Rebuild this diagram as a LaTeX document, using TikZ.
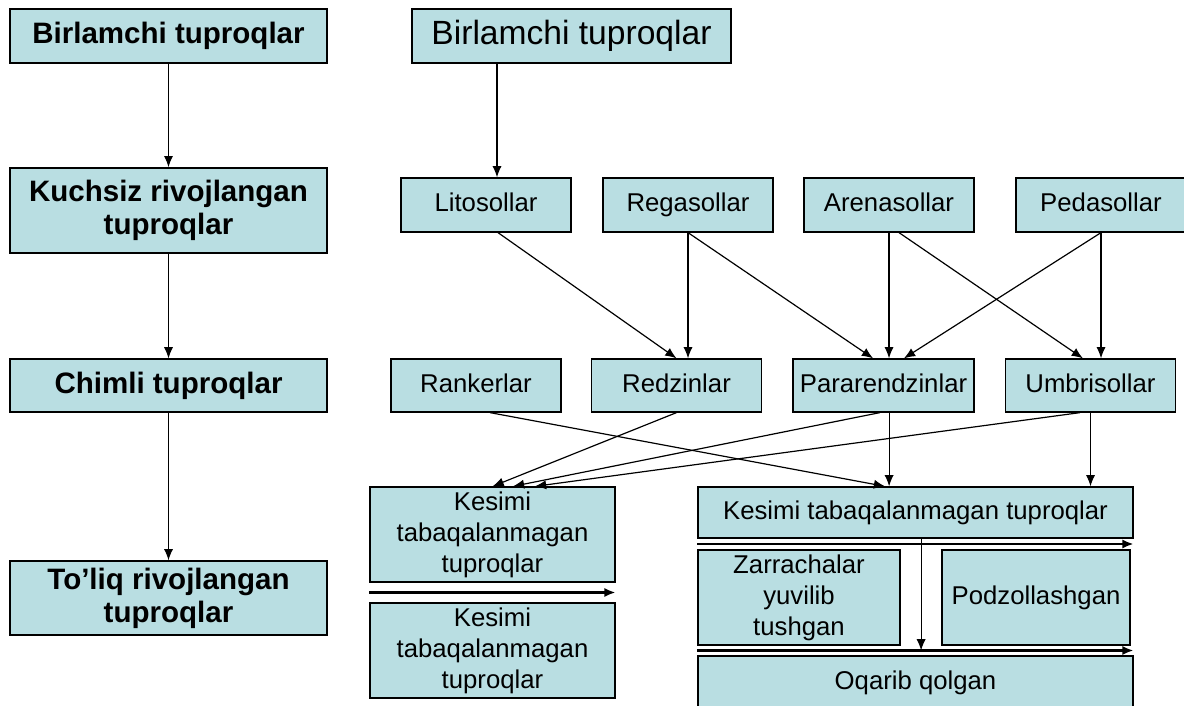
\documentclass[tikz,border=0pt]{standalone}
\usepackage{fontspec}
\setmainfont{Liberation Sans}
\usetikzlibrary{arrows.meta,calc}
\definecolor{boxblue}{RGB}{185,222,226}
\begin{document}
\begin{tikzpicture}[>={Latex[length=8pt,width=6.5pt]},
  box/.style={draw, line width=0.9pt, fill=boxblue, align=center, inner sep=2pt, font=\fontsize{18.3}{22}\selectfont},
  lbox/.style={box, font=\fontsize{21}{23.5}\selectfont\bfseries, minimum width=7.925cm},
  sbox/.style={box, minimum width=4.25cm, minimum height=1.35cm, text height=13.2pt, text depth=3.9pt},
  arr/.style={->, line width=0.85pt},
  sep/.style={->, line width=1.8pt}]
\useasboundingbox (0,0) rectangle (29.6,17.65);
\clip (0,0) rectangle (29.6,17.65);
\node[lbox, minimum height=1.35cm] (lb1) at (4.2125,16.75) {Birlamchi tuproqlar};
\node[lbox, minimum height=2.125cm] (lb2) at (4.2125,12.39) {Kuchsiz rivojlangan\\tuproqlar};
\node[lbox, minimum height=1.325cm] (lb3) at (4.2125,8.01) {Chimli tuproqlar};
\node[lbox, minimum height=1.85cm] (lb4) at (4.2125,2.7) {To’liq rivojlangan\\tuproqlar};
\draw[arr] (lb1) -- (lb2);
\draw[arr] (lb2) -- (lb3);
\draw[arr] (lb3) -- (lb4);
\node[box, font=\fontsize{23.9}{28}\selectfont, minimum width=7.975cm, minimum height=1.35cm] (rb) at (14.2875,16.75) {Birlamchi tuproqlar};
\node[sbox] (lit) at (12.15,12.525) {Litosollar};
\node[sbox] (reg) at (17.2,12.525) {Regasollar};
\node[sbox] (are) at (22.225,12.525) {Arenasollar};
\node[sbox] (ped) at (27.525,12.525) {Pedasollar};
\node[sbox, minimum height=1.325cm] (rank) at (11.9,8.0125) {Rankerlar};
\node[sbox, minimum height=1.325cm] (redz) at (16.9125,8.0125) {Redzinlar};
\node[sbox, minimum height=1.325cm, minimum width=4.525cm] (parr) at (22.0875,8.0125) {Pararendzinlar};
\node[sbox, minimum height=1.325cm] (umb) at (27.2625,8.0125) {Umbrisollar};
\node[box, minimum width=6.125cm, minimum height=2.375cm] (lk1) at (12.3125,4.2875) {Kesimi\\tabaqalanmagan\\tuproqlar};
\node[box, minimum width=6.125cm, minimum height=2.375cm] (lk2) at (12.3125,1.3875) {Kesimi\\tabaqalanmagan\\tuproqlar};
\node[box, minimum width=10.875cm, minimum height=1.275cm] (rk) at (22.8875,4.8375) {Kesimi tabaqalanmagan tuproqlar};
\node[box, minimum width=5.05cm, minimum height=2.375cm] (zar) at (19.975,2.7125) {Zarrachalar\\yuvilib\\tushgan};
\node[box, minimum width=4.7cm, minimum height=2.375cm] (pod) at (25.9,2.7125) {Podzollashgan};
\node[box, minimum width=10.875cm, minimum height=1.35cm] (oq) at (22.8875,0.575) {Oqarib qolgan};
\coordinate (lt) at ([xshift=2.75mm]lit.north);
\draw[arr] (lt |- rb.south) -- (lt);
\draw[arr] ([xshift=3mm]lit.south) -- (redz.north);
\draw[arr] (reg.south) -- (reg.south |- redz.north);
\draw[arr] (reg.south) -- ([xshift=-2.6mm]parr.north);
\draw[arr] (are.south) -- (are.south |- parr.north);
\draw[arr] ([xshift=2.5mm]are.south) -- ([xshift=-1.9mm]umb.north);
\draw[arr] (ped.south) -- ([xshift=5.1mm]parr.north);
\draw[arr] (ped.south) -- (ped.south |- umb.north);
\coordinate (pv) at ([xshift=1.4mm]parr.south);
\draw[arr] ([xshift=3.5mm]rank.south) -- ([xshift=-7.6mm]rk.north);
\draw[arr] (redz.south) -- (lk1.north);
\draw[arr] ([xshift=-0.9mm]parr.south) -- ([xshift=5.1mm]lk1.north);
\draw[arr] (pv) -- (pv |- rk.north);
\draw[arr] ([xshift=-2.6mm]umb.south) -- ([xshift=10.6mm]lk1.north);
\draw[arr] (umb.south) -- (umb.south |- rk.north);
\coordinate (s1) at ($(lk1.south west)!0.5!(lk2.north west)$);
\coordinate (s2) at ($(rk.south west)!0.5!(zar.north west)$);
\coordinate (s3) at ($(zar.south west)!0.5!(oq.north west)$);
\draw[sep] (s1) -- (s1 -| lk1.east);
\draw[sep] (s2) -- (s2 -| rk.east);
\draw[sep] (s3) -- (s3 -| oq.east);
\coordinate (rv) at ([xshift=1.4mm]rk.south);
\draw[arr] (rv) -- (rv |- s3);
\end{tikzpicture}
\end{document}
